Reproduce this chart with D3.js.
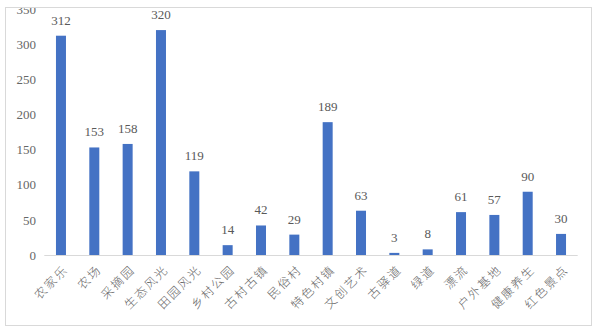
<!DOCTYPE html>
<html>
<head>
<meta charset="utf-8">
<script src="https://cdn.jsdelivr.net/npm/d3@7"></script>
<style>
  html, body { margin: 0; padding: 0; background: #fff; }
  svg { display: block; }
</style>
</head>
<body>
<svg id="chart" width="600" height="334"></svg>
<script>
// Categories and counts
const categories = ["农家乐", "农场", "采摘园", "生态风光", "田园风光", "乡村公园", "古村古镇", "民俗村",
  "特色村镇", "文创艺术", "古驿道", "绿道", "漂流", "户外基地", "健康养生", "红色景点"];
const counts = [312, 153, 158, 320, 119, 14, 42, 29, 189, 63, 3, 8, 61, 57, 90, 30];
const yTicks = [0, 50, 100, 150, 200, 250, 300, 350];

const svg = d3.select("#chart");

// outer frame
const frame = { x: 5.5, y: 7.5, w: 586, h: 318 };
svg.append("defs").append("clipPath").attr("id", "frameClip")
  .append("rect").attr("x", frame.x).attr("y", frame.y).attr("width", frame.w).attr("height", frame.h);

const g = svg.append("g").attr("clip-path", "url(#frameClip)");

const x = d3.scaleBand().domain(categories).range([44.3, 577.7]).paddingInner(0.7).paddingOuter(0.35);
const y = d3.scaleLinear().domain([0, 350]).range([255, 9]);

const numFont = "'Liberation Serif', 'DejaVu Serif', serif";

// y axis labels
const yAxis = d3.axisLeft(y).tickValues(yTicks).tickSize(0).tickPadding(8);
const ya = g.append("g").attr("transform", "translate(44,0)").call(yAxis);
ya.select(".domain").remove();
ya.selectAll("text")
  .attr("font-family", numFont)
  .attr("font-size", 13).attr("fill", "#666666");

// bars
g.selectAll("rect.bar").data(counts).enter().append("rect")
  .attr("class", "bar")
  .attr("x", (d, i) => x(categories[i]))
  .attr("width", x.bandwidth())
  .attr("y", d => y(d))
  .attr("height", d => y(0) - y(d))
  .attr("fill", "#4472C4");

// x axis baseline and rotated category labels
const xAxis = d3.axisBottom(x).tickSize(0).tickPadding(6);
const xa = g.append("g").attr("transform", `translate(0,${y(0)})`).call(xAxis);
xa.select(".domain").attr("stroke", "#d9d9d9").attr("stroke-width", 1)
  .attr("d", `M${x.range()[0]},0.5H${x.range()[1]}`);
xa.selectAll("text")
  .attr("font-family", "'Noto Sans CJK SC', sans-serif")
  .attr("font-weight", 300)
  .attr("font-size", 12).attr("fill", "#666666")
  .attr("letter-spacing", 2)
  .attr("text-anchor", "end")
  .attr("dy", "0.35em")
  .attr("transform", "translate(1,8) rotate(-45)");

// value labels
g.selectAll("text.val").data(counts).enter().append("text")
  .attr("class", "val")
  .attr("x", (d, i) => x(categories[i]) + x.bandwidth() / 2)
  .attr("y", d => y(d) - 11)
  .attr("text-anchor", "middle")
  .attr("font-family", numFont)
  .attr("font-size", 13).attr("fill", "#595959")
  .text(d => d);

// frame border
svg.append("rect").attr("x", frame.x).attr("y", frame.y).attr("width", frame.w).attr("height", frame.h)
  .attr("fill", "none").attr("stroke", "#d9d9d9").attr("stroke-width", 1);
</script>
</body>
</html>
